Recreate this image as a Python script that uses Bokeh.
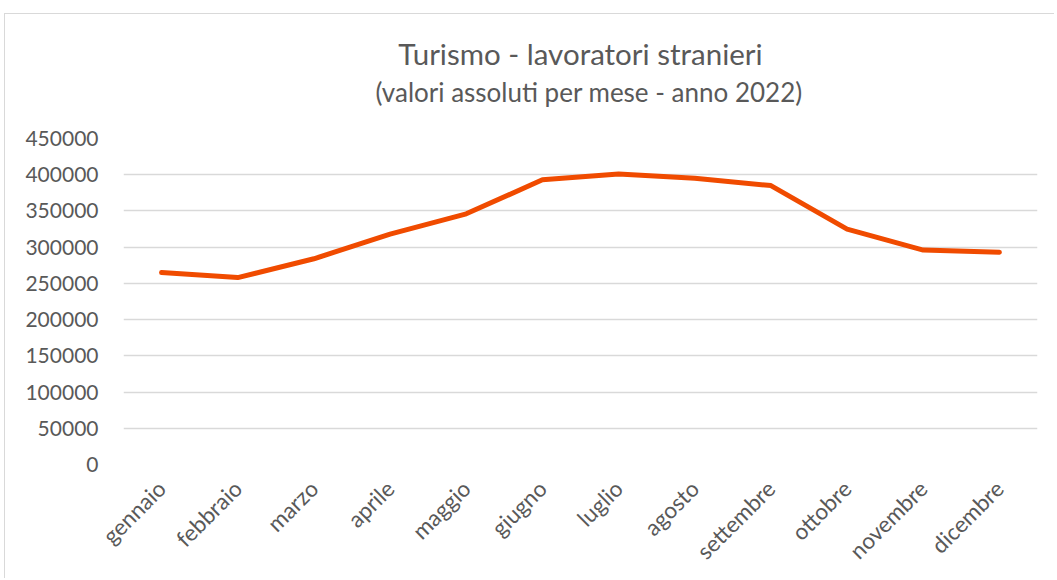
import math
from bokeh.plotting import figure
from bokeh.models import Title, SingleIntervalTicker, BasicTickFormatter, FactorRange, Range1d
from bokeh.embed import file_html
from bokeh.resources import INLINE

# ---- data ----
months = ["gennaio", "febbraio", "marzo", "aprile", "maggio", "giugno",
          "luglio", "agosto", "settembre", "ottobre", "novembre", "dicembre"]
workers = [265000, 258000, 284000, 318000, 346000, 393000,
           401000, 395000, 385000, 325000, 296000, 293000]
title_text = "Turismo - lavoratori stranieri"
subtitle_text = "(valori assoluti per mese - anno 2022)"
y_max = 450000
y_step = 50000

FONT = "Lato"
GREY = "#595959"

p = figure(
    x_range=FactorRange(*months, range_padding=0),
    y_range=Range1d(0, y_max),
    width=1050, height=565,
    output_backend="svg", toolbar_location=None,
    min_border_left=118, min_border_right=18,
    min_border_top=124, min_border_bottom=115,
)
p.margin = (13, 0, 0, 4)
p.styles = {"border-left": "1px solid #d9d9d9", "border-top": "1px solid #d9d9d9"}
p.outline_line_color = None
p.background_fill_color = "white"
p.border_fill_color = "white"

p.line(x=months, y=workers, line_color="#F04B00", line_width=5,
       line_cap="round", line_join="round")

# y axis
p.yaxis.ticker = SingleIntervalTicker(interval=y_step, num_minor_ticks=0)
p.yaxis.formatter = BasicTickFormatter(use_scientific=False)
p.yaxis.axis_line_color = None
p.yaxis.major_tick_line_color = None
p.yaxis.minor_tick_line_color = None
p.yaxis.major_tick_out = 0
p.yaxis.major_label_standoff = 25
p.yaxis.major_label_text_font = FONT
p.yaxis.major_label_text_font_size = "21px"
p.yaxis.major_label_text_color = GREY

# x axis
p.xaxis.axis_line_color = None
p.xaxis.major_tick_line_color = None
p.xaxis.minor_tick_line_color = None
p.xaxis.major_tick_out = 0
p.xaxis.major_label_orientation = math.pi / 4
p.xaxis.major_label_standoff = 20
p.xaxis.major_label_text_font = FONT
p.xaxis.major_label_text_font_size = "22.5px"
p.xaxis.major_label_text_color = GREY

p.xgrid.grid_line_color = None
p.ygrid.grid_line_color = "#d9d9d9"
p.ygrid.grid_line_width = 1.3

# titles: subtitle first (closest to the frame), then the main title
p.add_layout(Title(text=subtitle_text, align="left", standoff=62, offset=252,
                   text_font=FONT, text_font_size="26px", text_color=GREY,
                   text_font_style="normal"), "above")
p.add_layout(Title(text=title_text, align="center", standoff=-56,
                   text_font=FONT, text_font_size="29.5px", text_color=GREY,
                   text_font_style="normal"), "above")

open("out.html", "w").write(file_html(p, INLINE))
